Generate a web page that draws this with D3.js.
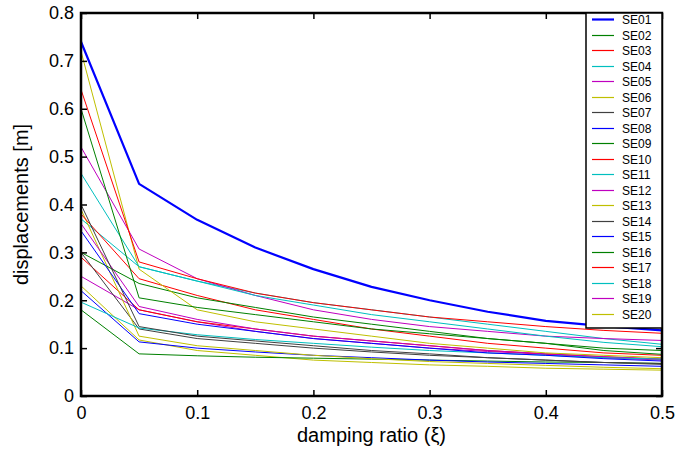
<!DOCTYPE html>
<html>
<head>
<meta charset="utf-8">
<script src="https://cdn.jsdelivr.net/npm/d3@7"></script>
<style>
  body { margin: 0; background: #fff; }
  svg { display: block; font-family: "Liberation Sans", Arial, sans-serif; }
</style>
</head>
<body>
<svg id="chart" width="677" height="450"></svg>
<script>
const xValues = [0, 0.05, 0.1, 0.15, 0.2, 0.25, 0.3, 0.35, 0.4, 0.45, 0.5];
const seriesNames = ['SE01','SE02','SE03','SE04','SE05','SE06','SE07','SE08','SE09','SE10',
                     'SE11','SE12','SE13','SE14','SE15','SE16','SE17','SE18','SE19','SE20'];
const SE01 = [0.74, 0.443, 0.368, 0.31, 0.265, 0.228, 0.20, 0.176, 0.157, 0.146, 0.137];
const SE02 = [0.60, 0.205, 0.185, 0.17, 0.155, 0.14, 0.13, 0.12, 0.11, 0.10, 0.095];
const SE03 = [0.64, 0.28, 0.245, 0.215, 0.195, 0.18, 0.165, 0.155, 0.145, 0.137, 0.131];
const SE04 = [0.465, 0.27, 0.24, 0.21, 0.19, 0.17, 0.155, 0.14, 0.125, 0.112, 0.103];
const SE05 = [0.52, 0.307, 0.245, 0.21, 0.18, 0.16, 0.145, 0.135, 0.125, 0.12, 0.116];
const SE06 = [0.72, 0.265, 0.18, 0.155, 0.14, 0.125, 0.11, 0.10, 0.09, 0.085, 0.08];
const SE07 = [0.40, 0.145, 0.125, 0.115, 0.105, 0.095, 0.088, 0.08, 0.075, 0.07, 0.066];
const SE08 = [0.345, 0.172, 0.15, 0.135, 0.12, 0.11, 0.10, 0.09, 0.085, 0.078, 0.073];
const SE09 = [0.30, 0.235, 0.205, 0.185, 0.165, 0.15, 0.135, 0.12, 0.11, 0.095, 0.087];
const SE10 = [0.38, 0.245, 0.21, 0.18, 0.16, 0.14, 0.125, 0.11, 0.10, 0.09, 0.085];
const SE11 = [0.196, 0.142, 0.128, 0.118, 0.11, 0.102, 0.095, 0.09, 0.085, 0.08, 0.077];
const SE12 = [0.36, 0.187, 0.16, 0.14, 0.125, 0.115, 0.105, 0.095, 0.088, 0.082, 0.077];
const SE13 = [0.39, 0.125, 0.105, 0.095, 0.085, 0.078, 0.072, 0.068, 0.064, 0.06, 0.057];
const SE14 = [0.30, 0.14, 0.12, 0.11, 0.10, 0.092, 0.085, 0.08, 0.075, 0.07, 0.068];
const SE15 = [0.22, 0.113, 0.10, 0.092, 0.085, 0.08, 0.075, 0.071, 0.068, 0.065, 0.062];
const SE16 = [0.18, 0.088, 0.084, 0.081, 0.079, 0.077, 0.075, 0.073, 0.071, 0.07, 0.068];
const SE17 = [0.29, 0.18, 0.155, 0.14, 0.125, 0.115, 0.105, 0.095, 0.088, 0.082, 0.077];
const SE18 = [0.37, 0.27, 0.24, 0.215, 0.195, 0.18, 0.165, 0.15, 0.135, 0.12, 0.108];
const SE19 = [0.25, 0.18, 0.155, 0.135, 0.12, 0.11, 0.10, 0.093, 0.087, 0.08, 0.075];
const SE20 = [0.23, 0.117, 0.095, 0.085, 0.075, 0.07, 0.065, 0.062, 0.058, 0.056, 0.054];
const seriesValues = [SE01, SE02, SE03, SE04, SE05, SE06, SE07, SE08, SE09, SE10,
                      SE11, SE12, SE13, SE14, SE15, SE16, SE17, SE18, SE19, SE20];
const xTicks = [0, 0.1, 0.2, 0.3, 0.4, 0.5];
const yTicks = [0, 0.1, 0.2, 0.3, 0.4, 0.5, 0.6, 0.7, 0.8];
// old MATLAB line color order
const colorOrder = ['#0000ff', '#008000', '#ff0000', '#00bfbf', '#bf00bf', '#bfbf00', '#404040'];

const svg = d3.select('#chart');
const margin = { left: 81, right: 15, top: 13, bottom: 54 };
const width = 677 - margin.left - margin.right;
const height = 450 - margin.top - margin.bottom;

const x = d3.scaleLinear().domain([0, 0.5]).range([0, width]);
const y = d3.scaleLinear().domain([0, 0.8]).range([height, 0]);

const g = svg.append('g').attr('transform', `translate(${margin.left},${margin.top})`);

const line = d3.line().x((d, i) => x(xValues[i])).y(d => y(d));

// draw in reverse so SE01 is on top
seriesValues.map((vals, i) => ({ vals, i })).reverse().forEach(({ vals, i }) => {
    g.append('path')
        .attr('d', line(vals))
        .attr('fill', 'none')
        .attr('stroke', colorOrder[i % 7])
        .attr('stroke-width', i === 0 ? 2.2 : 1)
        .attr('stroke-linejoin', 'round');
});

// axes, ticks pointing in
const tickLen = 6;
const styleAxis = sel => {
    sel.select('.domain').remove();
    sel.selectAll('line').attr('stroke', '#000').attr('stroke-width', 1.5);
    sel.selectAll('text').attr('fill', '#000').attr('font-size', '18px');
};
g.append('g').attr('transform', `translate(0,${height})`)
    .call(d3.axisBottom(x).tickValues(xTicks).tickSize(-tickLen).tickPadding(10).tickFormat(d3.format('')))
    .call(styleAxis);
g.append('g')
    .call(d3.axisTop(x).tickValues(xTicks).tickSize(-tickLen).tickFormat(''))
    .call(styleAxis);
g.append('g')
    .call(d3.axisLeft(y).tickValues(yTicks).tickSize(-tickLen).tickPadding(7).tickFormat(d3.format('')))
    .call(styleAxis);
g.append('g').attr('transform', `translate(${width},0)`)
    .call(d3.axisRight(y).tickValues(yTicks).tickSize(-tickLen).tickFormat(''))
    .call(styleAxis);

g.append('rect')
    .attr('width', width).attr('height', height)
    .attr('fill', 'none').attr('stroke', '#000').attr('stroke-width', 2.5);

// axis titles
svg.append('text')
    .attr('x', margin.left + width / 2).attr('y', 442)
    .attr('text-anchor', 'middle').attr('font-size', '20px')
    .text('damping ratio (ξ)');
svg.append('text')
    .attr('transform', `translate(28,${margin.top + height / 2}) rotate(-90)`)
    .attr('text-anchor', 'middle').attr('font-size', '20px')
    .text('displacements [m]');

// legend
const legX = 586, legY = 13, legW = width + margin.left - legX, rowH = 15.5;
const legend = svg.append('g');
legend.append('rect')
    .attr('x', legX).attr('y', legY)
    .attr('width', legW).attr('height', rowH * seriesNames.length + 5)
    .attr('fill', '#fff').attr('stroke', '#000').attr('stroke-width', 1.5);
seriesNames.forEach((name, i) => {
    const cy = Math.round(legY + 6 + i * rowH) + 0.5;
    legend.append('line')
        .attr('x1', legX + 6).attr('x2', legX + 28)
        .attr('y1', cy).attr('y2', cy)
        .attr('stroke', colorOrder[i % 7])
        .attr('stroke-width', i === 0 ? 2.2 : 1.2);
    legend.append('text')
        .attr('x', legX + 36).attr('y', cy + 4.5)
        .attr('font-size', '12px').attr('fill', '#000')
        .text(name);
});
</script>
</body>
</html>
